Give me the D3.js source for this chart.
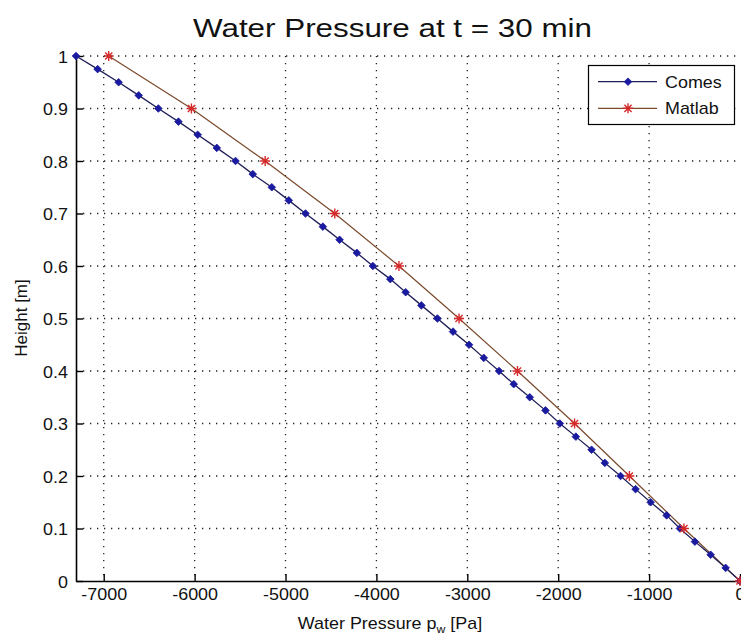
<!DOCTYPE html>
<html>
<head>
<meta charset="utf-8">
<script src="https://cdn.jsdelivr.net/npm/d3@7"></script>
<style>
  html, body { margin: 0; padding: 0; background: #fff; }
  svg { display: block; }
  text { font-family: "Liberation Sans", Arial, sans-serif; fill: #111; }
</style>
</head>
<body>
<svg id="chart" width="741" height="637"></svg>
<script>
// ---------- DATA ----------
const title = "Water Pressure at t = 30 min";
const xLabel = "Water Pressure p";
const xLabelSub = "w";
const xLabelTail = " [Pa]";
const yLabel = "Height [m]";
const seriesNames = ["Comes", "Matlab"];

const comesHeight = [0, 0.025, 0.05, 0.075, 0.1, 0.125, 0.15, 0.175, 0.2, 0.225,
  0.25, 0.275, 0.3, 0.325, 0.35, 0.375, 0.4, 0.425, 0.45, 0.475,
  0.5, 0.525, 0.55, 0.575, 0.6, 0.625, 0.65, 0.675, 0.7, 0.725,
  0.75, 0.775, 0.8, 0.825, 0.85, 0.875, 0.9, 0.925, 0.95, 0.975, 1.0];
const comesPressure = [0, -158, -323, -496, -661, -807, -983, -1149, -1314, -1487,
  -1633, -1806, -1982, -2140, -2313, -2489, -2651, -2819, -2981, -3157,
  -3329, -3505, -3678, -3847, -4039, -4215, -4405, -4589, -4780, -4964,
  -5151, -5360, -5550, -5756, -5966, -6178, -6399, -6615, -6836, -7067, -7305];

const matlabHeight = [0, 0.1, 0.2, 0.3, 0.4, 0.5, 0.6, 0.7, 0.8, 0.9, 1.0];
const matlabPressure = [0, -617, -1217, -1820, -2448, -3091, -3752, -4458, -5224, -6035, -6945];

const xTicks = [-7000, -6000, -5000, -4000, -3000, -2000, -1000, 0];
const xTickLabels = ["-7000", "-6000", "-5000", "-4000", "-3000", "-2000", "-1000", "0"];
const yTicks = [0, 0.1, 0.2, 0.3, 0.4, 0.5, 0.6, 0.7, 0.8, 0.9, 1];
const yTickLabels = ["0", "0.1", "0.2", "0.3", "0.4", "0.5", "0.6", "0.7", "0.8", "0.9", "1"];
const xDomain = [-7305, 0];
const yDomain = [0, 1];

// ---------- LAYOUT ----------
const pLeft = 76, pRight = 740, pTop = 56, pBottom = 581;
const svg = d3.select("#chart");
const x = d3.scaleLinear().domain(xDomain).range([pLeft, pRight]);
const y = d3.scaleLinear().domain(yDomain).range([pBottom, pTop]);
const SX = 1.12; // horizontal stretch of the reference's text

function stretchedText(parent, px, py, str, size, anchor, sx) {
  return parent.append("text")
    .attr("transform", `translate(${px},${py}) scale(${sx},1)`)
    .attr("text-anchor", anchor)
    .style("font-size", size + "px")
    .text(str);
}

// Grid
const grid = svg.append("g").attr("stroke", "#222").attr("stroke-width", 1.3)
  .attr("stroke-dasharray", "1.3,5.7");
grid.selectAll("line.v").data(xTicks.filter(d => d !== 0)).join("line").attr("class", "v")
  .attr("x1", d => x(d)).attr("x2", d => x(d)).attr("y1", pTop).attr("y2", pBottom);
grid.selectAll("line.h").data(yTicks.filter(d => d !== 0)).join("line").attr("class", "h")
  .attr("y1", d => y(d)).attr("y2", d => y(d)).attr("x1", pLeft).attr("x2", pRight);

// Axes (ticks inward)
const xAxis = d3.axisBottom(x).tickValues(xTicks).tickSize(-7).tickSizeOuter(0)
  .tickFormat((d, i) => xTickLabels[i]);
const yAxis = d3.axisLeft(y).tickValues(yTicks).tickSize(-7).tickSizeOuter(0)
  .tickFormat((d, i) => yTickLabels[i]);

const gx = svg.append("g").attr("transform", `translate(0,${pBottom})`).call(xAxis);
const gy = svg.append("g").attr("transform", `translate(${pLeft},0)`).call(yAxis);
[gx, gy].forEach(g => {
  g.select(".domain").attr("stroke", "#000").attr("stroke-width", 1.6);
  g.selectAll(".tick line").attr("stroke", "#000").attr("stroke-width", 1.4);
  g.selectAll(".tick text").style("font-size", "16px")
    .style("font-family", '"Liberation Sans", Arial, sans-serif').attr("fill", "#222");
});
gx.selectAll(".tick text").attr("y", 0).attr("dy", null)
  .attr("transform", `translate(0,19) scale(${SX},1)`);
gy.selectAll(".tick text").attr("x", 0).attr("dy", null)
  .attr("transform", `translate(-8,6) scale(${SX},1)`);

// Lines
const lineGen = d3.line().x(d => x(d[0])).y(d => y(d[1]));
const comesData = comesPressure.map((p, i) => [p, comesHeight[i]]);
const matlabData = matlabPressure.map((p, i) => [p, matlabHeight[i]]);

const comesLine = "#1f1f58", comesMarker = "#1a1aa0";
const matlabLine = "#7a4a2c", matlabMarker = "#d42a2a";

svg.append("path").datum(matlabData).attr("d", lineGen)
  .attr("fill", "none").attr("stroke", matlabLine).attr("stroke-width", 1.2);
svg.append("path").datum(comesData).attr("d", lineGen)
  .attr("fill", "none").attr("stroke", comesLine).attr("stroke-width", 1.3);

function diamond(g, cx, cy, r, color) {
  g.append("path")
    .attr("d", `M${cx},${cy - r}L${cx + r},${cy}L${cx},${cy + r}L${cx - r},${cy}Z`)
    .attr("fill", color).attr("stroke", color).attr("stroke-width", 0.8);
}
function asterisk(g, cx, cy, r, color) {
  const a = r * 0.72;
  g.append("path")
    .attr("d", `M${cx - r},${cy}L${cx + r},${cy}M${cx},${cy - r}L${cx},${cy + r}` +
      `M${cx - a},${cy - a}L${cx + a},${cy + a}M${cx - a},${cy + a}L${cx + a},${cy - a}`)
    .attr("stroke", color).attr("stroke-width", 1.4).attr("fill", "none");
}

const mk = svg.append("g");
comesData.forEach(d => diamond(mk, x(d[0]), y(d[1]), 3.8, comesMarker));
matlabData.forEach(d => asterisk(mk, x(d[0]), y(d[1]), 5, matlabMarker));

// Title
svg.append("text")
  .attr("x", 392.5).attr("y", 37).attr("text-anchor", "middle")
  .attr("textLength", 399).attr("lengthAdjust", "spacingAndGlyphs")
  .style("font-size", "26px").attr("fill", "#000").text(title);

// X label with subscript
const xl = svg.append("text")
  .attr("transform", `translate(390,629) scale(${SX},1)`)
  .attr("text-anchor", "middle").style("font-size", "16px").attr("fill", "#222");
xl.append("tspan").text(xLabel);
xl.append("tspan").attr("dy", 4).style("font-size", "11px").text(xLabelSub);
xl.append("tspan").attr("dy", -4).text(xLabelTail);

// Y label
svg.append("text")
  .attr("transform", "translate(27,318) rotate(-90)")
  .attr("text-anchor", "middle").style("font-size", "17px").attr("fill", "#222")
  .text(yLabel);

// Legend
const lg = svg.append("g");
lg.append("rect").attr("x", 588.5).attr("y", 65.5).attr("width", 146).attr("height", 59)
  .attr("fill", "#fff").attr("stroke", "#000").attr("stroke-width", 1.2);
const legendRows = [
  { name: seriesNames[0], line: comesLine, marker: "diamond", color: comesMarker, y: 81.7 },
  { name: seriesNames[1], line: matlabLine, marker: "asterisk", color: matlabMarker, y: 108.3 }
];
legendRows.forEach(r => {
  lg.append("line").attr("x1", 598).attr("x2", 657).attr("y1", r.y).attr("y2", r.y)
    .attr("stroke", r.line).attr("stroke-width", 1.3);
  if (r.marker === "diamond") diamond(lg, 628, r.y, 3.8, r.color);
  else asterisk(lg, 628, r.y, 5, r.color);
  stretchedText(lg, 665, r.y + 6, r.name, 16, "start", SX).attr("fill", "#222");
});
</script>
</body>
</html>
